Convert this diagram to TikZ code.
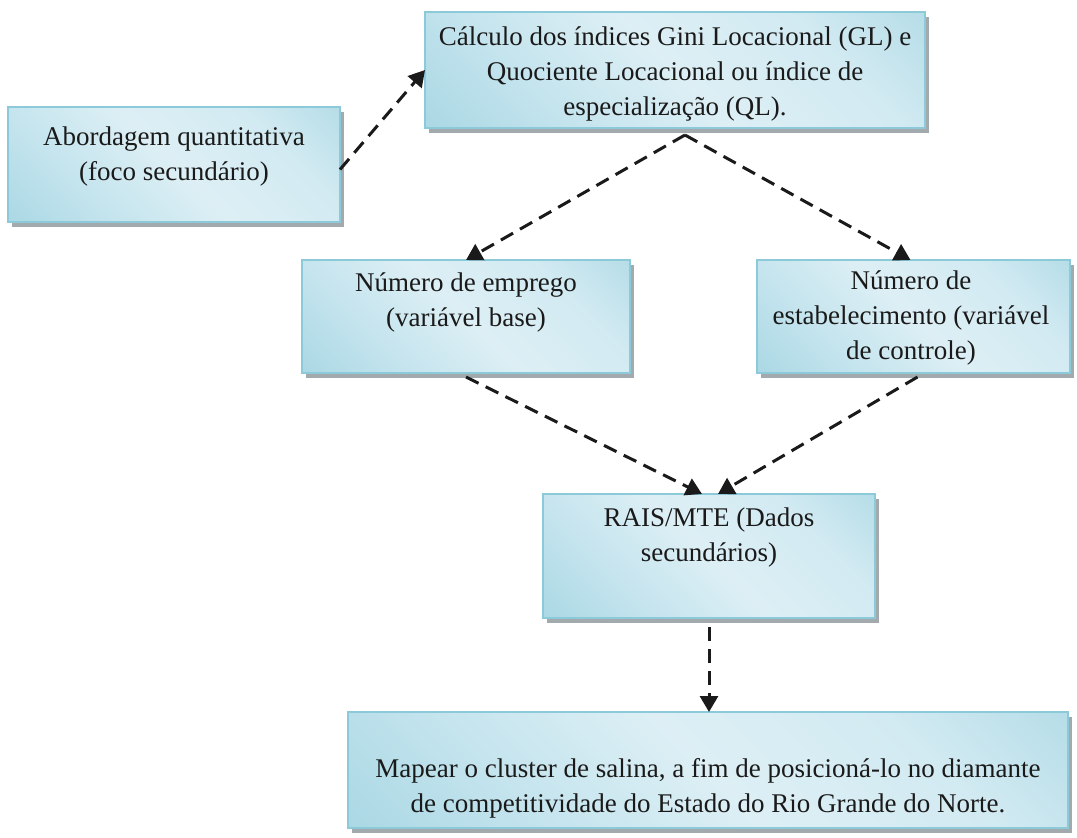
\documentclass[tikz,border=0pt]{standalone}
\usepackage{fontspec}
\setmainfont{Liberation Serif}
\usetikzlibrary{arrows.meta,shadows}

\definecolor{bxedge}{HTML}{8CCADA}
\definecolor{bxdark}{HTML}{93CEDC}
\definecolor{bxmid}{HTML}{C2E3ED}
\definecolor{bxlight}{HTML}{DDEFF5}
\definecolor{bxlight2}{HTML}{D2EAF2}
\definecolor{bxdark2}{HTML}{9BD1DE}
\definecolor{shgray}{HTML}{A2AAAD}
\definecolor{ink}{HTML}{1A1A1A}

\pgfdeclarehorizontalshading{boxfill}{100bp}{%
  color(0bp)=(bxdark); color(30bp)=(bxmid); color(50bp)=(bxlight);
  color(70bp)=(bxlight2); color(100bp)=(bxdark2)}

\tikzset{
  box/.style={draw=bxedge, line width=1pt, shading=boxfill, shading angle=45,
    inner sep=0pt, outer sep=0pt,
    drop shadow={opacity=1, fill=shgray, shadow xshift=2pt, shadow yshift=-2.5pt}},
  label/.style={align=center, font=\fontsize{13.5}{17.5}\selectfont, text=ink,
    inner sep=0pt},
  link/.style={draw=ink, line width=1.5pt, dash pattern=on 7pt off 4pt,
    -{Triangle[length=8pt,width=9pt]}}
}

\begin{document}
\begin{tikzpicture}[x=0.5pt,y=-0.5pt]
  \useasboundingbox (0,0) rectangle (1077,837);

  % boxes
  \node[box, minimum width=166pt, minimum height=57.5pt] (A) at (174,164.5) {};
  \node[box, minimum width=250pt, minimum height=58pt]   (B) at (675,70) {};
  \node[box, minimum width=164pt, minimum height=56.5pt] (C) at (466,316.5) {};
  \node[box, minimum width=156.5pt, minimum height=56.5pt] (D) at (913.5,316.5) {};
  \node[box, minimum width=166pt, minimum height=62pt]   (E) at (709,556) {};
  \node[box, minimum width=360pt, minimum height=58pt]   (F) at (708,770) {};

  % box texts
  \node[label] (tA) at (174,156) {Abordagem quantitativa\\(foco secundário)};
  \node[label] (tB) at (675,74) {Cálculo dos índices Gini Locacional (GL) e\\Quociente Locacional ou índice de\\especialização (QL).};
  \node[label] (tC) at (466,302) {Número de emprego\\(variável base)};
  \node[label] (tD) at (911,318) {Número de\\estabelecimento (variável\\de controle)};
  \node[label] (tE) at (709,537) {RAIS/MTE (Dados\\secundários)};
  \node[label] (tF) at (708,788) {Mapear o cluster de salina, a fim de posicioná-lo no diamante\\de competitividade do Estado do Rio Grande do Norte.};

  % connectors
  \draw[link] ([yshift=-2.5pt]A.east) -- (B.west);
  \draw[link] ([xshift=5pt,yshift=-3.5pt]B.south) -- (C.north);
  \draw[link] ([xshift=5pt,yshift=-3.5pt]B.south) -- ([xshift=-1.5pt]D.north);
  \draw[link] ([yshift=-2pt]C.south) -- ([xshift=-3.5pt]E.north);
  \draw[link] ([xshift=2pt,yshift=-2pt]D.south) -- ([xshift=4.5pt]E.north);
  \draw[link] ([yshift=-4.5pt]E.south) -- ([xshift=0.5pt]F.north);
\end{tikzpicture}
\end{document}
